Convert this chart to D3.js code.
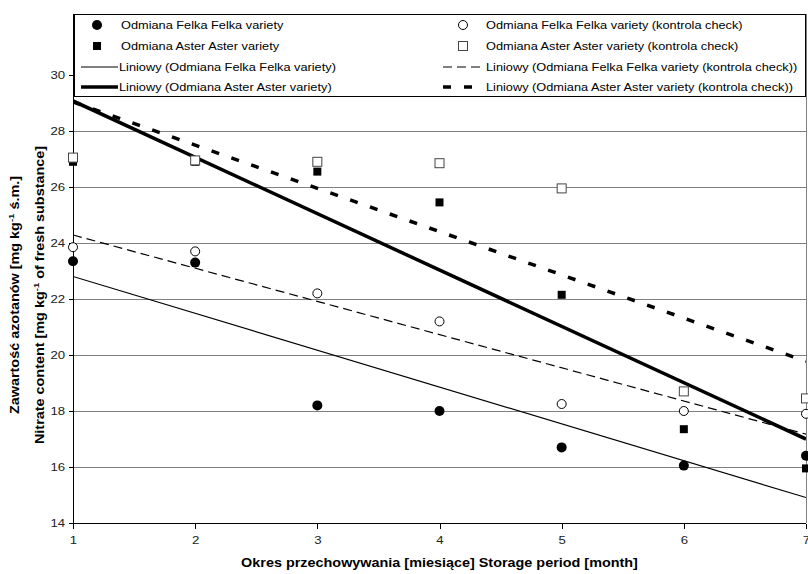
<!DOCTYPE html>
<html lang="pl">
<head>
<meta charset="UTF-8">
<title>Nitrate content</title>
<script src="https://cdn.jsdelivr.net/npm/d3@7/dist/d3.min.js"></script>
<style>
    body { margin: 0; background: #fff; }
    svg text { font-family: "Liberation Sans", Arial, sans-serif; }
    .axis path, .axis line { stroke: #000; shape-rendering: crispEdges; }
    .axis text { font-size: 11px; fill: #222; }
    .grid line { stroke: #808080; shape-rendering: crispEdges; }
</style>
</head>
<body>
<script>
    // months of storage
    const months = [1, 2, 3, 4, 5, 6, 7]
    // nitrate content, mg/kg fresh matter
    const felka = [23.35, 23.3, 18.2, 18.0, 16.7, 16.05, 16.4]
    const felkaCheck = [23.85, 23.7, 22.2, 21.2, 18.25, 18.0, 17.9]
    const aster = [26.9, 26.9, 26.55, 25.45, 22.15, 17.35, 15.95]
    const asterCheck = [27.05, 26.95, 26.9, 26.85, 25.95, 18.7, 18.45]
    const yTicks = [14, 16, 18, 20, 22, 24, 26, 28, 30]

    const width = 808, height = 574
    const pLeft = 73, pRight = 806, pTop = 14, pBottom = 523
    const sx = 1.2   // the original text is a bit wide

    const svg = d3.select('body').append('svg').attr('width', width).attr('height', height)

    const x = d3.scaleLinear().domain([1, 7]).range([pLeft, pRight])
    const y = d3.scaleLinear().domain([14, 30]).range([pBottom, 75])

    // grid
    svg.append('g').attr('class', 'grid')
        .selectAll('line').data(yTicks.filter(d => d > 14))
        .enter().append('line')
        .attr('x1', pLeft).attr('x2', pRight)
        .attr('y1', d => Math.round(y(d)) + 0.5).attr('y2', d => Math.round(y(d)) + 0.5)
    svg.append('line').attr('x1', pRight + 0.5).attr('x2', pRight + 0.5)
        .attr('y1', pTop).attr('y2', pBottom)
        .attr('stroke', '#808080')

    // axes
    const xAxis = d3.axisBottom(x).tickValues(months).tickSize(5).tickPadding(8).tickFormat(d3.format('d'))
    svg.append('g').attr('class', 'axis')
        .attr('transform', 'translate(0,' + (pBottom + 0.5) + ')')
        .call(xAxis)
        .call(g => g.select('.domain').attr('d', 'M' + pLeft + ',0H' + pRight))
        .call(g => g.selectAll('.tick text').attr('transform', 'scale(' + sx + ',1)'))

    const yAxis = d3.axisLeft(y).tickValues(yTicks).tickSize(5).tickPadding(2)
    svg.append('g').attr('class', 'axis')
        .attr('transform', 'translate(' + (pLeft + 0.5) + ',0)')
        .call(yAxis)
        .call(g => g.select('.domain').attr('d', 'M0,' + pBottom + 'V' + pTop))
        .call(g => g.selectAll('.tick text').attr('transform', 'scale(' + sx + ',1)'))

    // linear trend (least squares), like the spreadsheet trendline
    function trend(vals) {
        const mx = d3.mean(months), my = d3.mean(vals)
        const b = d3.sum(months, (m, i) => (m - mx) * (vals[i] - my)) / d3.sum(months, m => (m - mx) ** 2)
        const a = my - b * mx
        return [1, 7].map(m => [m, a + b * m])
    }

    const series = [
        { name: 'Odmiana Felka Felka variety', vals: felka, shape: 'circle', fill: true,
          line: { w: 1.2, dash: null } },
        { name: 'Odmiana Felka Felka variety (kontrola check)', vals: felkaCheck, shape: 'circle', fill: false,
          line: { w: 1.2, dash: '9,5' } },
        { name: 'Odmiana Aster Aster variety', vals: aster, shape: 'square', fill: true,
          line: { w: 3.5, dash: null } },
        { name: 'Odmiana Aster Aster variety (kontrola check)', vals: asterCheck, shape: 'square', fill: false,
          line: { w: 3.5, dash: '8,13' } }
    ]

    svg.append('clipPath').attr('id', 'plot')
        .append('rect').attr('x', pLeft).attr('y', pTop).attr('width', pRight - pLeft).attr('height', pBottom - pTop)

    const line = d3.line().x(d => x(d[0])).y(d => y(d[1]))
    const lines = svg.append('g').attr('clip-path', 'url(#plot)')
    series.forEach(s => {
        lines.append('path')
            .attr('d', line(trend(s.vals)))
            .attr('fill', 'none')
            .attr('stroke', '#000')
            .attr('stroke-width', s.line.w)
            .attr('stroke-dasharray', s.line.dash)
    })

    function marker(g, s, cx, cy) {
        if (s.shape === 'circle') {
            g.append('circle').attr('cx', cx).attr('cy', cy)
                .attr('r', s.fill ? 5 : 4.5)
                .attr('fill', s.fill ? '#000' : '#fff')
                .attr('stroke', '#000').attr('stroke-width', s.fill ? 0 : 1)
        } else {
            const h = s.fill ? 4 : 4.5
            g.append('rect').attr('x', cx - h).attr('y', cy - h)
                .attr('width', 2 * h).attr('height', 2 * h)
                .attr('fill', s.fill ? '#000' : '#fff')
                .attr('stroke', s.fill ? 'none' : '#444').attr('stroke-width', 1)
        }
    }

    const pts = svg.append('g')
    series.forEach(s => {
        s.vals.forEach((v, i) => marker(pts, s, x(months[i]), y(v)))
    })

    // wide text: placed by transform, stretched along its own direction
    function wideText(g, tx, ty, str, size, rot, k) {
        return g.append('text')
            .attr('transform', 'translate(' + tx + ',' + ty + ')' + (rot ? ' rotate(' + rot + ')' : '') + ' scale(' + (k || sx) + ',1)')
            .attr('font-size', size)
            .text(str)
    }

    // legend
    const lg = svg.append('g')
    lg.append('rect').attr('x', 74.5).attr('y', 14.5).attr('width', 731).attr('height', 82)
        .attr('fill', '#fff').attr('stroke', '#000')
    const rowsY = [25, 46, 67, 87]
    const cols = [{ mk: 97, tx: 121, l1: 81, l2: 118 }, { mk: 463, tx: 486, l1: 443, l2: 485 }]
    const legendItems = [
        { s: series[0], col: 0, row: 0, kind: 'marker' },
        { s: series[1], col: 1, row: 0, kind: 'marker' },
        { s: series[2], col: 0, row: 1, kind: 'marker' },
        { s: series[3], col: 1, row: 1, kind: 'marker' },
        { s: series[0], col: 0, row: 2, kind: 'line' },
        { s: series[1], col: 1, row: 2, kind: 'line' },
        { s: series[2], col: 0, row: 3, kind: 'line' },
        { s: series[3], col: 1, row: 3, kind: 'line' }
    ]
    legendItems.forEach(it => {
        const c = cols[it.col], ry = rowsY[it.row]
        let label
        if (it.kind === 'marker') {
            marker(lg, it.s, c.mk, ry)
            label = it.s.name
        } else {
            lg.append('line').attr('x1', c.l1).attr('x2', c.l2).attr('y1', ry).attr('y2', ry)
                .attr('stroke', '#000').attr('stroke-width', it.s.line.w)
                .attr('stroke-dasharray', it.s.line.dash)
            label = 'Liniowy (' + it.s.name + ')'
        }
        wideText(lg, it.kind === 'marker' ? c.tx : c.l2 + 1, ry + 4, label, 11, 0, 1.16)
    })

    // axis titles
    wideText(svg, (pLeft + pRight) / 2, 567, 'Okres przechowywania [miesiące] Storage period [month]', 12)
        .attr('text-anchor', 'middle').attr('font-weight', 'bold')

    const yTitles = [
        { x: 19, pre: 'Zawartość azotanów [mg kg', post: ' ś.m.]' },
        { x: 44, pre: 'Nitrate content [mg kg', post: ' of fresh substance]' }
    ]
    yTitles.forEach(t => {
        const el = wideText(svg, t.x, 295, '', 12, -90)
            .attr('text-anchor', 'middle').attr('font-weight', 'bold')
        el.append('tspan').text(t.pre)
        el.append('tspan').attr('baseline-shift', '5').attr('font-size', 8).text('-1')
        el.append('tspan').text(t.post)
    })
</script>
</body>
</html>
